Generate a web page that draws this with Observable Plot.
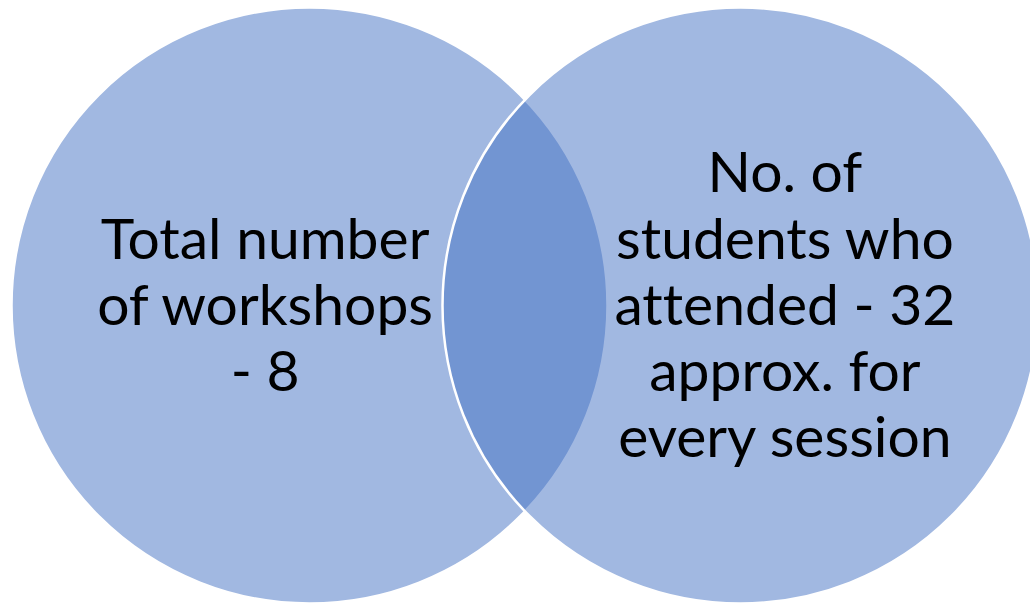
<!DOCTYPE html>
<html>
<head>
<meta charset="utf-8">
<script src="https://cdn.jsdelivr.net/npm/d3@7"></script>
<script src="https://cdn.jsdelivr.net/npm/@observablehq/plot@0.6"></script>
<style>
  html, body { margin: 0; padding: 0; background: #ffffff; }
  #chart svg { display: block; }
  #chart svg text { font-variant-ligatures: none; font-feature-settings: "liga" 0; }
</style>
</head>
<body>
<div id="chart"></div>
<script>
// Venn sets (two equal circles)
const setIndex = [0, 1];
const setLabels = [
  "Total number\nof workshops\n- 8",
  "No. of\nstudents who\nattended - 32\napprox. for\nevery session"
];
const setValues = [8, 32];

const sets = setIndex.map((i) => ({ i, label: setLabels[i], value: setValues[i] }));

const chart = Plot.plot({
  width: 1030,
  height: 603,
  marginTop: 7,
  marginBottom: 0,
  marginLeft: 0,
  marginRight: 0,
  x: { domain: [0, 1], range: [309, 740], axis: null },
  marks: [
    Plot.dot(sets, {
      x: "i",
      frameAnchor: "middle",
      r: 298,
      fill: "#4472C4",
      fillOpacity: 0.5,
      stroke: "#ffffff",
      strokeWidth: 2.5
    }),
    Plot.text(sets, {
      x: (d) => d.i + (d.i === 0 ? -0.103 : 0.103),
      frameAnchor: "middle",
      text: "label",
      lineAnchor: "middle",
      lineHeight: 1.16,
      fontSize: 57,
      fontFamily: "Lato, 'Open Sans', sans-serif",
      fill: "#000000",
      dy: -2
    })
  ]
});
document.getElementById("chart").appendChild(chart);
</script>
</body>
</html>
